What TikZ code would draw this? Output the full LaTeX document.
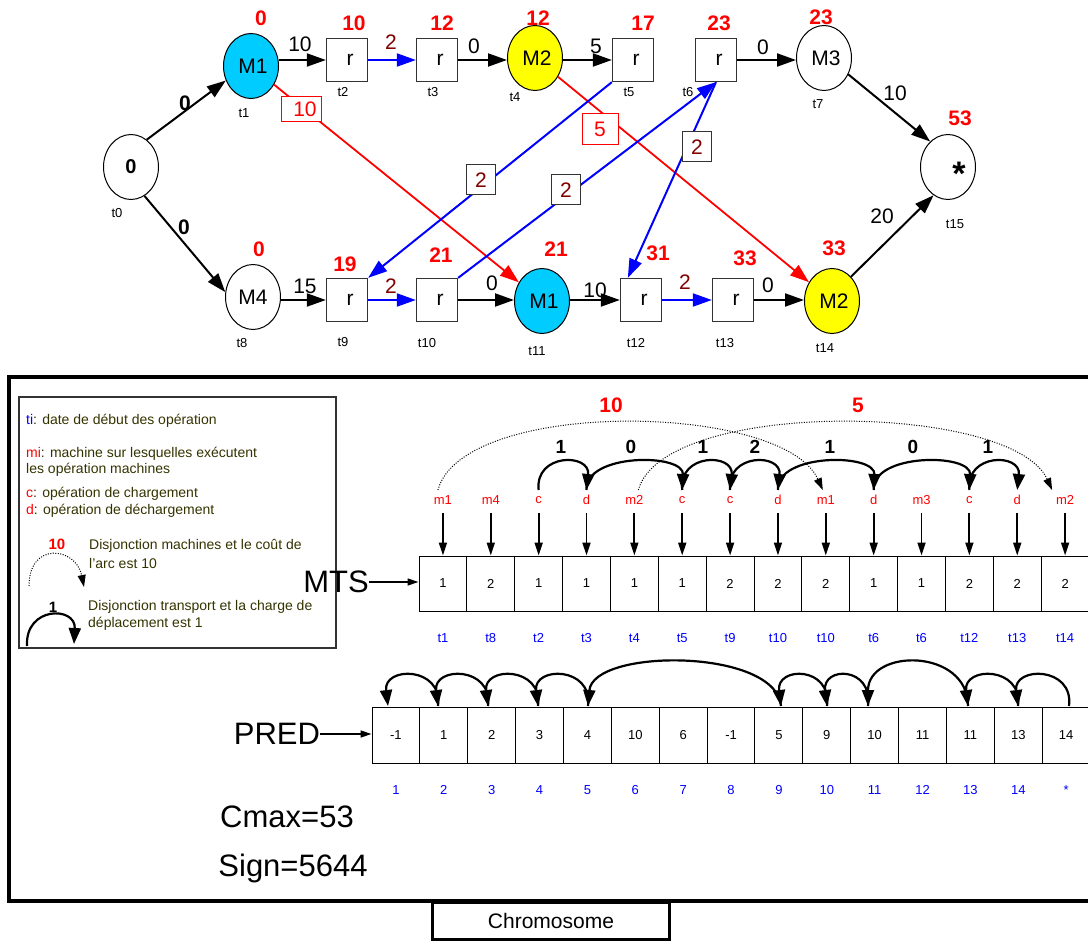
\documentclass[tikz,border=0pt]{standalone}
\usepackage{fontspec}
\setmainfont{Liberation Sans}
\usetikzlibrary{arrows.meta,shapes.geometric}
\definecolor{mred}{RGB}{255,0,0}
\definecolor{mblue}{RGB}{0,0,255}
\definecolor{wine}{RGB}{128,0,0}
\definecolor{mcyan}{RGB}{0,204,255}
\definecolor{myellow}{RGB}{255,255,0}
\definecolor{legtext}{RGB}{51,51,0}
\newcommand\fsz[1]{\fontsize{#1}{#1}\selectfont}
\begin{document}
\begin{tikzpicture}[x=1pt,y=-1pt,
  mach/.style={ellipse,draw,line width=1pt,minimum width=55pt,minimum height=65pt,inner sep=0pt,font=\fsz{21}},
  rbox/.style={rectangle,draw=black!80,line width=1.3pt,minimum width=41pt,minimum height=43pt,inner sep=0pt,font=\fsz{21}},
  dval/.style={text=mred,font=\bfseries\fsz{21},inner sep=0pt},
  tlab/.style={font=\fsz{13},inner sep=0pt},
  wlab/.style={font=\fsz{21},inner sep=0pt},
  gedge/.style={line width=2pt,-{Triangle[length=19pt,width=13pt]}},
  tedge/.style={gedge,draw=mblue},
  redge/.style={line width=1.8pt,draw=mred,-{Triangle[length=19pt,width=13pt]}},
  costbox/.style={draw=mred,text=mred,fill=white,line width=1pt,inner sep=0pt,font=\fsz{21}},
  loadbox/.style={draw=black!80,text=wine,fill=white,line width=1pt,inner sep=0pt,font=\fsz{21}},
  cellbox/.style={draw,line width=1pt,minimum width=47.86pt,inner sep=0pt,font=\fsz{13}},
  mlab/.style={text=mred,font=\fsz{13},inner sep=0pt},
  ilab/.style={text=mblue,font=\fsz{13},inner sep=0pt},
  varrow/.style={line width=1.8pt,-{Triangle[length=13pt,width=8pt]}},
  harrow/.style={line width=1.5pt,-{Triangle[length=11pt,width=7pt]}},
  tdisj/.style={line width=2.2pt,-{Triangle[length=16pt,width=12pt]}},
  mdisj/.style={line width=1pt,dash pattern=on 1pt off 1.5pt,-{Triangle[length=12pt,width=8pt]}},
  arclab/.style={font=\bfseries\fsz{19},inner sep=0pt},
  legline/.style={text=legtext,font=\fsz{14},inner sep=0pt,anchor=west},
]
\useasboundingbox (0,0) rectangle (1088,941);

% ---------- disjunctive graph ----------
\node[mach] (t0) at (131,167) {\bfseries\fsz{20}0};
\node[mach,fill=mcyan] (t1) at (251,66) {\hspace{4pt}M1};
\node[rbox] (t2) at (347,60) {\hspace{6pt}r};
\node[rbox] (t3) at (437,60) {\hspace{6pt}r};
\node[mach,fill=myellow] (t4) at (535,58) {\hspace{4pt}M2};
\node[rbox] (t5) at (633,60) {\hspace{6pt}r};
\node[rbox] (t6) at (716,60) {\hspace{6pt}r};
\node[mach] (t7) at (824,58) {\hspace{4pt}M3};
\node[mach] (t15) at (948,167) {};
\node[font=\bfseries\fsz{34},inner sep=0pt] (star) at (959,174) {*};

\node[mach] (t8) at (253,297) {M4};
\node[rbox] (t9) at (347,300) {\hspace{6pt}r};
\node[rbox] (t10) at (437,300) {\hspace{6pt}r};
\node[mach,fill=mcyan] (t11) at (542,301) {\hspace{4pt}M1};
\node[rbox] (t12) at (641,300) {\hspace{6pt}r};
\node[rbox] (t13) at (733,300) {\hspace{6pt}r};
\node[mach,fill=myellow] (t14) at (832,301) {\hspace{4pt}M2};

% conjunctive arcs
\draw[gedge] (t0.60) -- (t1.210);
\draw[gedge] (t0.-65) -- (t8.170);
\draw[gedge] (t2.west -| t1.east) -- (t2.west);
\draw[tedge] (t2) -- (t3);
\draw[gedge] (t3.east) -- (t3.east -| t4.west);
\draw[gedge] (t4.east |- t5) -- (t5.west);
\draw[gedge] (t6.east) -- (t6.east -| t7.west);
\draw[gedge] (t7.-34) -- (t15.125);
\draw[gedge] (t14.52) -- (t15.243);
\draw[gedge] (t8.east |- t9) -- (t9.west);
\draw[tedge] (t9) -- (t10);
\draw[gedge] (t10.east) -- (t10.east -| t11.west);
\draw[gedge] (t11.east |- t12) -- (t12.west);
\draw[tedge] (t12) -- (t13);
\draw[gedge] (t13.east) -- (t13.east -| t14.west);

% disjunctive arcs
\draw[redge] (t1) -- (t11);
\draw[redge] (t4) -- (t14);
\draw[tedge] (t5.south west) -- (t9.north east);
\draw[tedge] (t10.north east) -- (t6.south);
\draw[tedge] (t6.south) -- ([xshift=8pt]t12.north west);

\node[costbox,minimum width=40pt,minimum height=25pt] (c1) at (301,109) {\hspace{8pt}10};
\node[costbox,minimum width=36pt,minimum height=31pt] (c2) at (600,129) {5};
\node[loadbox,minimum width=29pt,minimum height=30pt] (l1) at (481,180) {2};
\node[loadbox,minimum width=29pt,minimum height=30pt] (l2) at (566,190) {2};
\node[loadbox,minimum width=29pt,minimum height=30pt] (l3) at (697,147) {2};

% arc weights
\node[arclab,font=\bfseries\fsz{21}] (w1) at (185,103) {0};
\node[arclab,font=\bfseries\fsz{21}] (w2) at (184,227) {0};
\node[wlab] (w3) at (300,44) {10};
\node[wlab,text=wine] (w4) at (391,42) {2};
\node[wlab] (w5) at (474,46) {0};
\node[wlab] (w6) at (596,46) {5};
\node[wlab] (w7) at (763,47) {0};
\node[wlab] (w8) at (895,93) {10};
\node[wlab] (w9) at (882,216) {20};
\node[wlab] (w10) at (305,286) {15};
\node[wlab,text=wine] (w11) at (391,286) {2};
\node[wlab] (w12) at (492,283) {0};
\node[wlab] (w13) at (595,290) {10};
\node[wlab,text=wine] (w14) at (685,282) {2};
\node[wlab] (w15) at (768,285) {0};

% start dates
\foreach \p/\v [count=\k] in {(261,18)/0,(354,23)/10,(442,23)/12,(538,18)/12,(643,23)/17,(719,23)/23,(821,17)/23,(960,118)/53,(259,249)/0,(345,264)/19,(441,255)/21,(556,249)/21,(658,253)/31,(745,258)/33,(834,248)/33}
  \node[dval] (date\k) at \p {\v};

% operation names
\foreach \p/\v [count=\k] in {(117,213)/t0,(244,113)/t1,(343,92)/t2,(433,92)/t3,(515,97)/t4,(629,92)/t5,(688,92)/t6,(818,104)/t7,(955,224)/t15,(242,343)/t8,(343,342)/t9,(427,343)/t10,(537,351)/t11,(636,343)/t12,(725,343)/t13,(825,348)/t14}
  \node[tlab] (name\k) at \p {\v};

% ---------- chromosome frame ----------
\draw[line width=3.5pt] (1095,377) -- (9,377) -- (9,901) -- (1095,901);
\node[draw,line width=3pt,minimum width=237pt,minimum height=37pt,inner sep=0pt,font=\fsz{21}] (chrom) at (551,921) {Chromosome};

% legend
\draw[draw=black!80,line width=1.2pt] (19,397) rectangle (336,648);
\node[legline] (lg1) at (26,421) {{\color{mblue}ti}: date de début des opération};
\node[legline] (lg2) at (26,454) {{\color{mred}mi}: machine sur lesquelles exécutent};
\node[legline] (lg3) at (26,470) {les opération machines};
\node[legline] (lg4) at (26,494) {{\color{mred}c}: opération de chargement};
\node[legline] (lg5) at (26,511) {{\color{mred}d}: opération de déchargement};
\node[text=mred,font=\bfseries\fsz{15},inner sep=0pt] (lg6) at (57,544) {10};
\node[legline] (lg7) at (89,546) {Disjonction machines et le coût de};
\node[legline] (lg8) at (89,563) {l'arc est 10};
\node[font=\bfseries\fsz{15},inner sep=0pt] (lg9) at (53,607) {1};
\node[legline] (lg10) at (88,607) {Disjonction transport et la charge de};
\node[legline] (lg11) at (88,624) {déplacement est 1};
\coordinate (ld1) at (29,586);
\coordinate (ld2) at (84,587);
\draw[mdisj] (ld1) .. controls +(0,-45) and +(-8,-40) .. (ld2);
\coordinate (lt1) at (27,646);
\coordinate (lt2) at (74,644);
\draw[tdisj] (lt1) .. controls +(-2,-40) and +(2,-38) .. (lt2);

% MTS vector
\node[font=\fsz{31},inner sep=0pt] (mtslab) at (336,582) {MTS};
\foreach \v [count=\i] in {1,2,1,1,1,1,2,2,2,1,1,2,2,2}
  \node[cellbox,minimum height=55pt] (mts\i) at ({419+47.86*(\i-0.5)},583.5) {\v};
\draw[harrow] (mtslab.east) -- (mtslab.east -| mts1.west);
\foreach \m [count=\i] in {m1,m4,c,d,m2,c,c,d,m1,d,m3,c,d,m2}{
  \node[mlab] (op\i) at ({419+47.86*(\i-0.5)},500) {\m};
  \coordinate (a\i) at ({419+47.86*(\i-0.5)},513);
  \coordinate (p\i) at ({419+47.86*(\i-0.5)},490);
  \draw[varrow] (a\i) -- (mts\i.north);
}
\foreach \m [count=\i] in {t1,t8,t2,t3,t4,t5,t9,t10,t10,t6,t6,t12,t13,t14}
  \node[ilab] (st\i) at ({419+47.86*(\i-0.5)},638) {\m};

% transport disjunctions
\draw[tdisj] (p3) .. controls +(-4,-37) and +(4,-37) .. (p4);
\draw[tdisj] (p4) .. controls +(-2,-37) and +(2,-37) .. (p6);
\draw[tdisj] (p6) .. controls +(-4,-37) and +(4,-37) .. (p7);
\draw[tdisj] (p7) .. controls +(-4,-37) and +(4,-37) .. (p8);
\draw[tdisj] (p8) .. controls +(-2,-37) and +(2,-37) .. (p10);
\draw[tdisj] (p10) .. controls +(-2,-37) and +(2,-37) .. (p12);
\draw[tdisj] (p12) .. controls +(-4,-37) and +(4,-37) .. (p13);
\foreach \p/\v [count=\k] in {(561,447)/1,(631,447)/0,(703,447)/1,(755,447)/2,(830,447)/1,(913,447)/0,(988,447)/1}
  \node[arclab] (tw\k) at \p {\v};

% machine disjunctions
\draw[mdisj] ([xshift=-5pt]p1) .. controls +(25,-92) and +(-40,-88) .. ([xshift=-3pt]p9);
\draw[mdisj] ([xshift=4pt]p5) .. controls +(25,-92) and +(-40,-88) .. ([xshift=-13pt]p14);
\node[dval] (mw1) at (611,405) {10};
\node[dval] (mw2) at (858,405) {5};

% PRED vector
\node[font=\fsz{31},inner sep=0pt] (predlab) at (277,734) {PRED};
\foreach \v [count=\i] in {-1,1,2,3,4,10,6,-1,5,9,10,11,11,13,14}
  \node[cellbox,minimum height=56pt] (pr\i) at ({372+47.87*(\i-0.5)},735) {\v};
\draw[harrow] (predlab.east) -- (predlab.east -| pr1.west);
\foreach \m [count=\i] in {1,2,3,4,5,6,7,8,9,10,11,12,13,14,*}
  \node[ilab] (ix\i) at ({372+47.87*(\i-0.5)},790) {\m};

\foreach \n/\x in {1/388,2/438,3/488,4/538,5/588,9/781,10/827,11/868,13/968,14/1018,15/1069}
  \coordinate (q\n) at (\x,706);
\draw[tdisj] (q2) .. controls +(5,-40) and +(-5,-40) .. (q1);
\draw[tdisj] (q3) .. controls +(5,-40) and +(-5,-40) .. (q2);
\draw[tdisj] (q4) .. controls +(5,-40) and +(-5,-40) .. (q3);
\draw[tdisj] (q5) .. controls +(5,-40) and +(-5,-40) .. (q4);
\draw[tdisj] (q9) .. controls +(-5,-58) and +(5,-58) .. (q5);
\draw[tdisj] (q10) .. controls +(5,-40) and +(-5,-40) .. (q9);
\draw[tdisj] (q11) .. controls +(5,-40) and +(-5,-40) .. (q10);
\draw[tdisj] (q13) .. controls +(0,-58) and +(0,-58) .. (q11);
\draw[tdisj] (q14) .. controls +(5,-40) and +(-5,-40) .. (q13);
\draw[tdisj] (q15) .. controls +(5,-40) and +(-5,-40) .. (q14);

\node[font=\fsz{31},inner sep=0pt] (cmax) at (287,817) {Cmax=53};
\node[font=\fsz{31},inner sep=0pt] (sign) at (293,868) {Sign=5644};
\end{tikzpicture}
\end{document}
